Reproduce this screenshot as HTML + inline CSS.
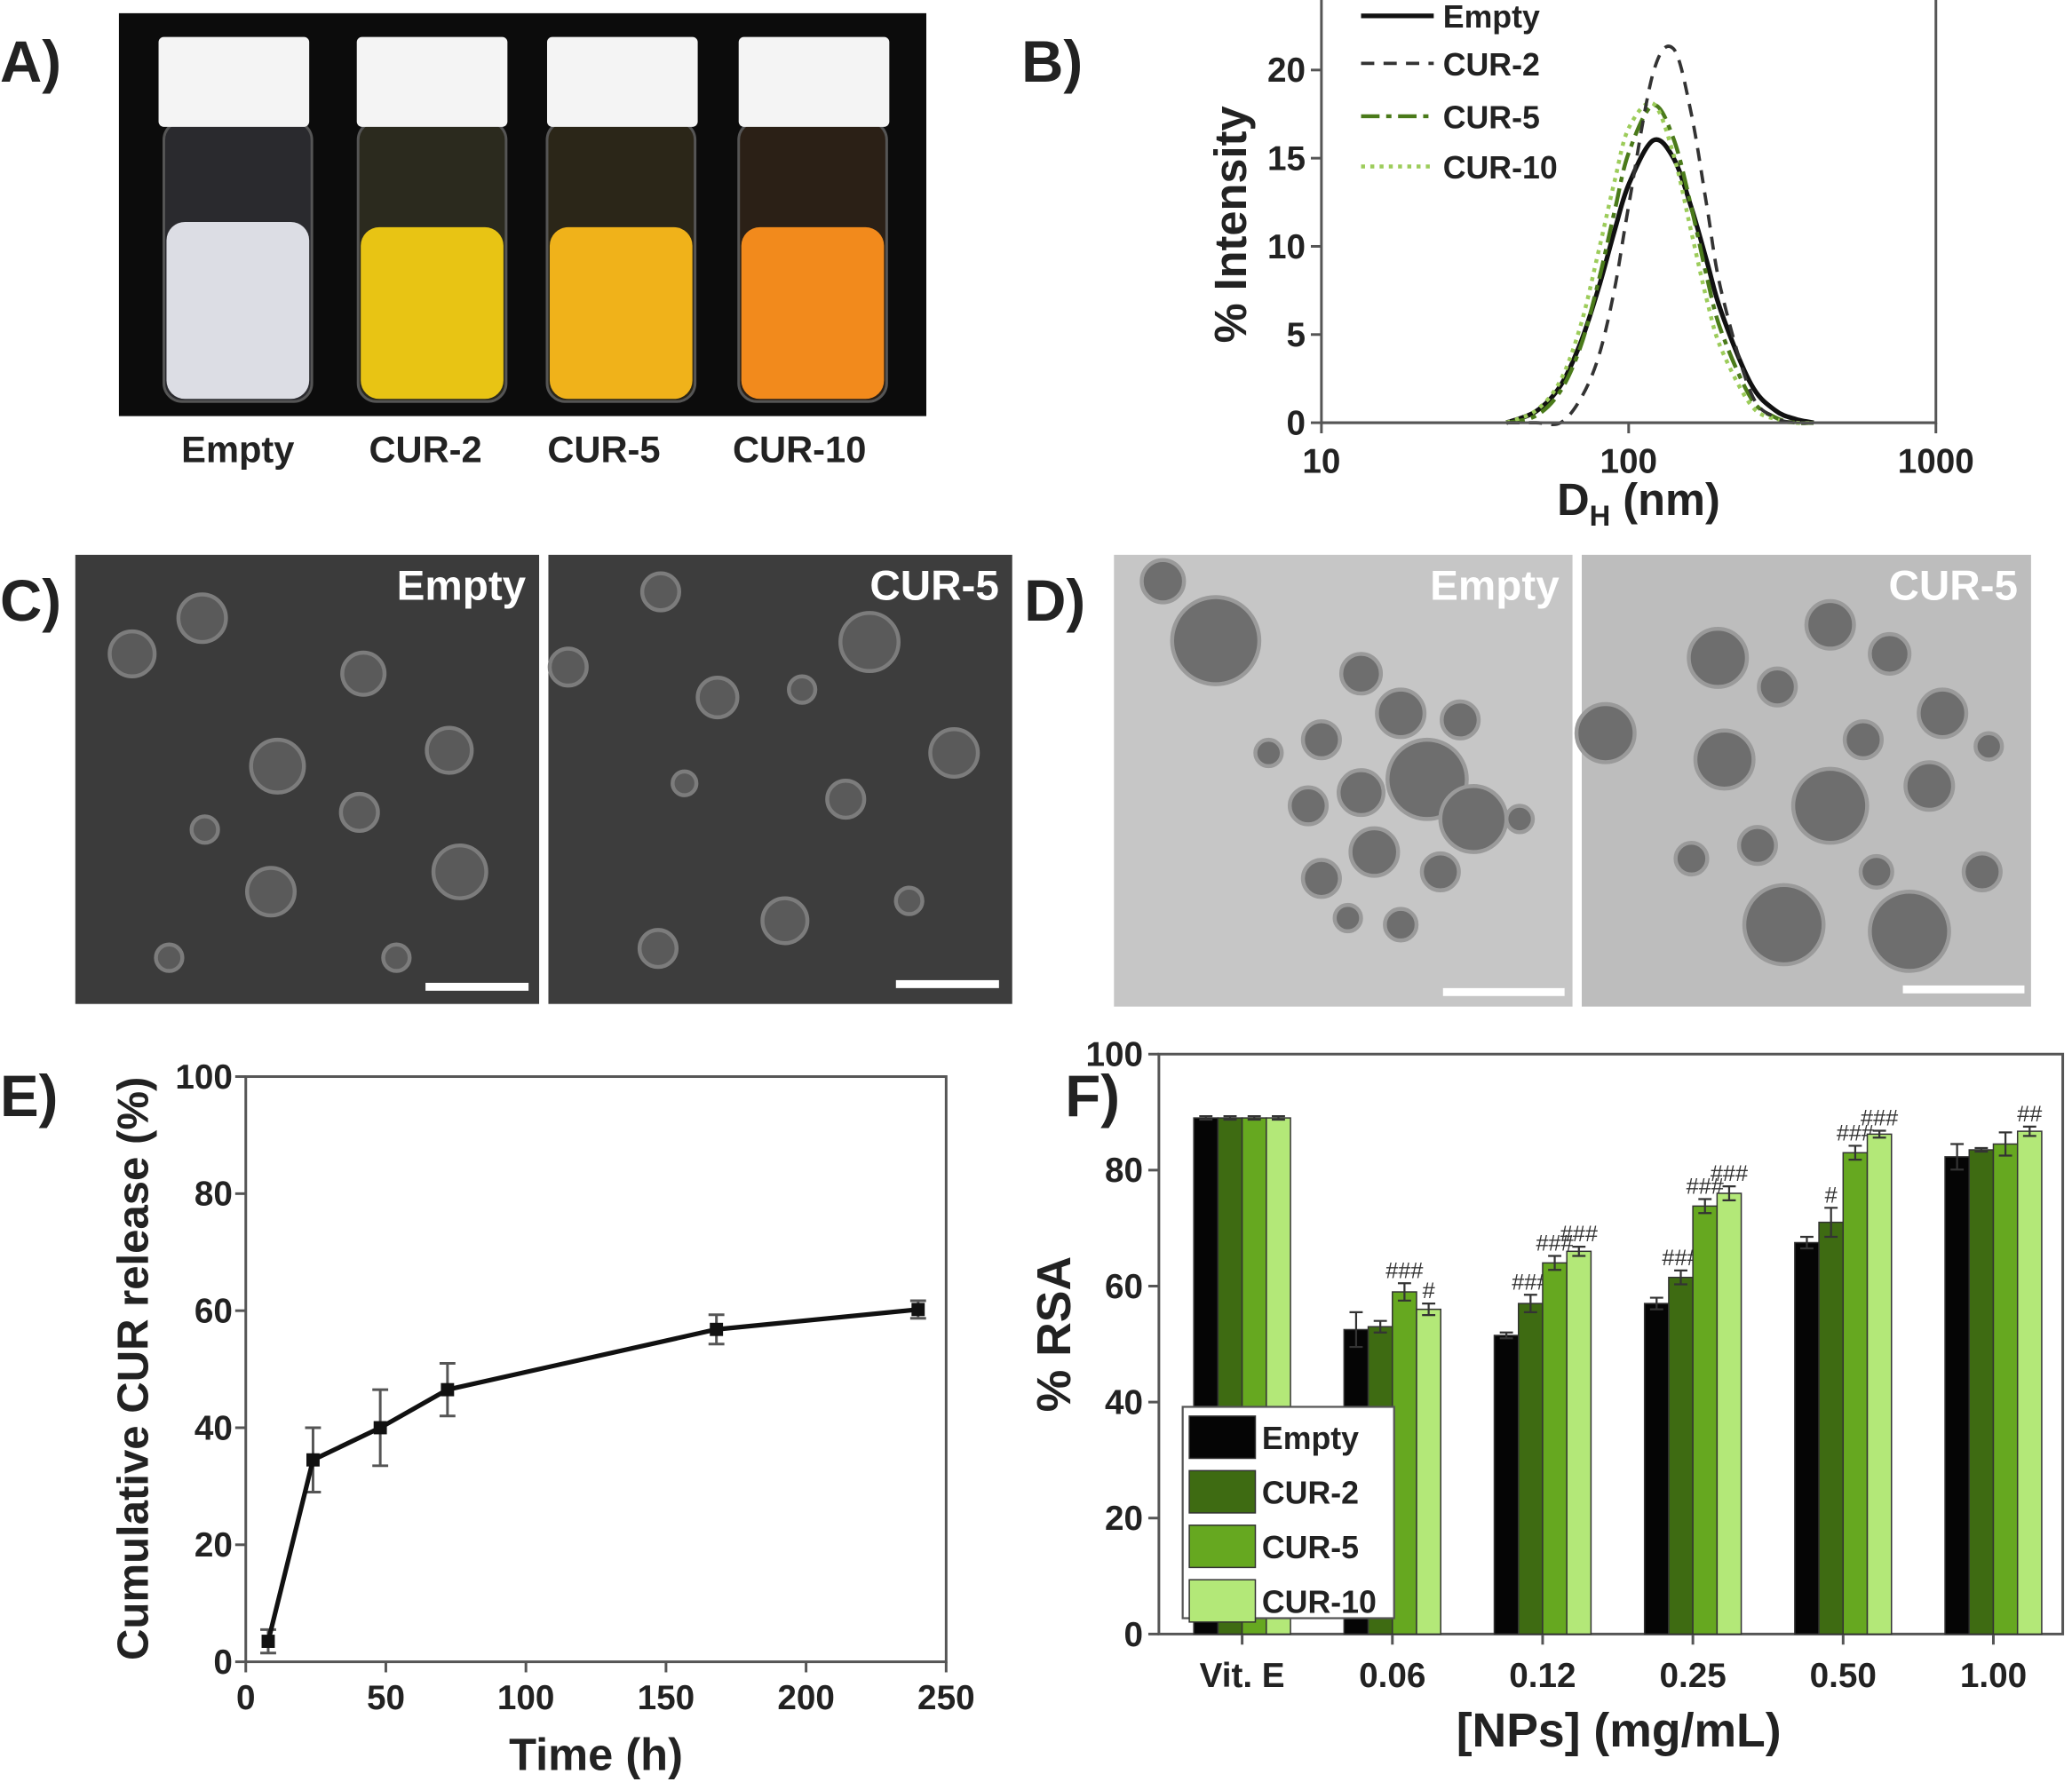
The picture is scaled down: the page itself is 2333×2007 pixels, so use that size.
<!DOCTYPE html>
<html><head><meta charset="utf-8"><title>CUR nanoparticles figure</title>
<style>
html,body{margin:0;padding:0;background:#fff;}
svg{display:block;}
text{font-family:"Liberation Sans Narrow","Liberation Sans",sans-serif;font-weight:bold;fill:#222;}
</style></head>
<body>
<svg id="fig" width="2333" height="2007" viewBox="0 0 1568 1349" preserveAspectRatio="none" xmlns="http://www.w3.org/2000/svg">
<!-- Panel A -->
<g>
<text x="0" y="62" font-size="44">A)</text>
<rect x="90" y="10" width="611" height="305" fill="#0c0c0c"/>
<g>
<rect x="124" y="92" width="112" height="212" rx="14" fill="#2a2a2e" stroke="#555" stroke-width="2"/>
<rect x="126" y="168" width="108" height="134" rx="14" fill="#dcdde4"/>
<rect x="120" y="28" width="114" height="68" rx="4" fill="#f4f4f4"/></g>
<g>
<rect x="271" y="92" width="112" height="212" rx="14" fill="#2b2a1e" stroke="#555" stroke-width="2"/>
<rect x="273" y="172" width="108" height="130" rx="14" fill="#e8c414"/>
<rect x="270" y="28" width="114" height="68" rx="4" fill="#f4f4f4"/></g>
<g>
<rect x="414" y="92" width="112" height="212" rx="14" fill="#2b2618" stroke="#555" stroke-width="2"/>
<rect x="416" y="172" width="108" height="130" rx="14" fill="#f0b21a"/>
<rect x="414" y="28" width="114" height="68" rx="4" fill="#f4f4f4"/></g>
<g>
<rect x="559" y="92" width="112" height="212" rx="14" fill="#2b2016" stroke="#555" stroke-width="2"/>
<rect x="561" y="172" width="108" height="130" rx="14" fill="#f28a1c"/>
<rect x="559" y="28" width="114" height="68" rx="4" fill="#f4f4f4"/></g>
<text x="180" y="350" font-size="28" text-anchor="middle">Empty</text>
<text x="322" y="350" font-size="28" text-anchor="middle">CUR-2</text>
<text x="457" y="350" font-size="28" text-anchor="middle">CUR-5</text>
<text x="605" y="350" font-size="28" text-anchor="middle">CUR-10</text>
</g>
<!-- Panel B -->
<g id="pb">
<text x="773" y="62" font-size="44">B)</text>
</g>
<!-- Panel C -->
<g>
<text x="0" y="470" font-size="44">C)</text>
<rect x="57" y="420" width="351" height="340" fill="#3b3b3b"/>
<rect x="415" y="420" width="351" height="340" fill="#3d3d3d"/>
<g fill="#5a5a5a" stroke="#7c7c7c" stroke-width="3">
<circle cx="153" cy="468" r="18"/><circle cx="100" cy="495" r="17"/><circle cx="275" cy="510" r="16"/><circle cx="340" cy="568" r="17"/><circle cx="210" cy="580" r="20"/><circle cx="272" cy="615" r="14"/><circle cx="155" cy="628" r="10"/><circle cx="205" cy="675" r="18"/><circle cx="348" cy="660" r="20"/><circle cx="300" cy="725" r="10"/><circle cx="128" cy="725" r="10"/>
<circle cx="500" cy="448" r="14"/><circle cx="658" cy="486" r="22"/><circle cx="430" cy="505" r="14"/><circle cx="543" cy="528" r="15"/><circle cx="607" cy="522" r="10"/><circle cx="722" cy="570" r="18"/><circle cx="640" cy="605" r="14"/><circle cx="518" cy="593" r="9"/><circle cx="594" cy="697" r="17"/><circle cx="498" cy="718" r="14"/><circle cx="688" cy="682" r="10"/></g>
<text x="398" y="454" font-size="32" text-anchor="end" style="fill:#fff">Empty</text>
<text x="756" y="454" font-size="32" text-anchor="end" style="fill:#fff">CUR-5</text>
<rect x="322" y="744" width="78" height="6" fill="#fff"/>
<rect x="678" y="742" width="78" height="6" fill="#fff"/>
</g>
<!-- Panel D -->
<g>
<text x="775" y="470" font-size="44">D)</text>
<rect x="843" y="420" width="347" height="342" fill="#c6c6c6"/>
<rect x="1197" y="420" width="340" height="342" fill="#bdbdbd"/>
<g fill="#6e6e6e" stroke="#9a9a9a" stroke-width="3">
<circle cx="920" cy="485" r="33"/><circle cx="880" cy="440" r="16"/><circle cx="1030" cy="510" r="15"/><circle cx="1060" cy="540" r="18"/><circle cx="1105" cy="545" r="14"/><circle cx="1000" cy="560" r="14"/><circle cx="1080" cy="590" r="30"/><circle cx="1115" cy="620" r="25"/><circle cx="1030" cy="600" r="17"/><circle cx="990" cy="610" r="14"/><circle cx="1040" cy="645" r="18"/><circle cx="1090" cy="660" r="14"/><circle cx="1000" cy="665" r="14"/><circle cx="960" cy="570" r="10"/><circle cx="1060" cy="700" r="12"/><circle cx="1150" cy="620" r="10"/><circle cx="1020" cy="695" r="10"/>
<circle cx="1300" cy="498" r="22"/><circle cx="1385" cy="473" r="18"/><circle cx="1345" cy="520" r="14"/><circle cx="1430" cy="495" r="15"/><circle cx="1470" cy="540" r="18"/><circle cx="1305" cy="575" r="22"/><circle cx="1385" cy="610" r="28"/><circle cx="1460" cy="595" r="18"/><circle cx="1410" cy="560" r="14"/><circle cx="1215" cy="555" r="22"/><circle cx="1350" cy="700" r="30"/><circle cx="1445" cy="705" r="30"/><circle cx="1500" cy="660" r="14"/><circle cx="1330" cy="640" r="14"/><circle cx="1280" cy="650" r="12"/><circle cx="1505" cy="565" r="10"/><circle cx="1420" cy="660" r="12"/></g>
<text x="1180" y="454" font-size="32" text-anchor="end" style="fill:#fff">Empty</text>
<text x="1527" y="454" font-size="32" text-anchor="end" style="fill:#fff">CUR-5</text>
<rect x="1092" y="748" width="92" height="6" fill="#fff"/>
<rect x="1440" y="746" width="92" height="6" fill="#fff"/>
</g>
<g id="pe">
<text x="0" y="845" font-size="44">E)</text>
</g>
<g id="pf">
<text x="806" y="845" font-size="44">F)</text>
</g>
</svg>
<script>
// ---------- Panel B data ----------
const dlsDiameters = [40,50,60,70,80,90,100,120,140,160,180,200,250,300,350,400];
const dlsEmpty = [0,0.65,2.1,4.6,7.7,10.9,13.5,16,15.0,12.2,9.1,6.3,2.2,0.7,0.2,0];
const dlsCur2  = [0,0,0,1.4,3.8,7.6,12.3,19.8,21.2,17.5,12.2,7.5,1.7,0.3,0,0];
const dlsCur5  = [0,0.4,1.8,4.4,8.1,12.0,15.3,18,16.1,12.2,8.2,5.2,1.4,0.3,0,0];
const dlsCur10 = [0,0.7,2.4,5.6,9.8,13.7,16.7,18.1,15.2,10.8,6.9,4.2,1.0,0.2,0,0];
const dlsYTicks = [0,5,10,15,20];
const dlsXTicks = [10,100,1000];
// ---------- Panel E data ----------
const relTime = [8,24,48,72,168,240];
const relValue = [3.5,34.5,40,46.5,56.8,60.2];
const relErr = [2,5.5,6.5,4.5,2.5,1.5];
const relXTicks = [0,50,100,150,200,250];
const relYTicks = [0,20,40,60,80,100];
// ---------- Panel F data ----------
const rsaCategories = ["Vit. E","0.06","0.12","0.25","0.50","1.00"];
const rsaSeries = ["Empty","CUR-2","CUR-5","CUR-10"];
const rsaEmpty = [89,52.5,51.5,57,67.5,82.3];
const rsaCur2 = [89,53,57,61.5,71,83.5];
const rsaCur5 = [89,59,64,73.8,83,84.5];
const rsaCur10 = [89,56,66,76,86.2,86.7];
const rsaErrEmpty = [0.3,3,0.5,1,1,2.2];
const rsaErrCur2 = [0.3,1,1.5,1.2,2.5,0.3];
const rsaErrCur5 = [0.3,1.5,1.2,1.2,1.2,2];
const rsaErrCur10 = [0.3,1,0.8,1.2,0.6,0.8];
const rsaSigCur2 = ["","","###","###","#",""];
const rsaSigCur5 = ["","###","###","###","###",""];
const rsaSigCur10 = ["","#","###","###","###","##"];
const rsaYTicks = [0,20,40,60,80,100];

const NS="http://www.w3.org/2000/svg";
function mk(parent,tag,attrs,txt){const e=document.createElementNS(NS,tag);for(const k in attrs)e.setAttribute(k,attrs[k]);if(txt!==undefined)e.textContent=txt;parent.appendChild(e);return e;}
function spline(pts){let d="M"+pts[0][0]+","+pts[0][1];for(let i=0;i<pts.length-1;i++){const p0=pts[Math.max(i-1,0)],p1=pts[i],p2=pts[i+1],p3=pts[Math.min(i+2,pts.length-1)];const c1x=p1[0]+(p2[0]-p0[0])/6,c1y=p1[1]+(p2[1]-p0[1])/6,c2x=p2[0]-(p3[0]-p1[0])/6,c2y=p2[1]-(p3[1]-p1[1])/6;d+=" C"+c1x+","+c1y+" "+c2x+","+c2y+" "+p2[0]+","+p2[1];}return d;}

// ---------- Panel B ----------
(function(){
const g=document.getElementById('pb');
const L=1000,R=1465,T=0,B=320;
const xs=v=>L+(Math.log10(v)-1)/2*(R-L);
const ys=v=>B-v*(B-53)/20;
let e=mk(g,'rect',{x:L,y:T-5,width:R-L,height:B-T+5,fill:'none',stroke:'#555','stroke-width':2});


dlsYTicks.forEach(v=>{const y=ys(v);
 let t=mk(g,'line',{x1:L-8,x2:L,y1:y,y2:y,stroke:'#555','stroke-width':2});
 
 
 let l=mk(g,'text',{x:L-12,y:y+9,'font-size':26,'text-anchor':'end'},v);
 
 });
dlsXTicks.forEach(v=>{const x=xs(v);
 let t=mk(g,'line',{x1:x,x2:x,y1:B,y2:B+8,stroke:'#555','stroke-width':2});
 
 
 let l=mk(g,'text',{x:x,y:B+38,'font-size':26,'text-anchor':'middle'},v);
 
 });
let yt=mk(g,'text',{x:0,y:0,'font-size':34,'text-anchor':'middle',transform:'translate(943,170) rotate(-90)'},'% Intensity');


let xt=mk(g,'text',{x:1240,y:390,'font-size':34,'text-anchor':'middle'});


mk(xt,'tspan',{},'D');mk(xt,'tspan',{'font-size':22,dy:8},'H');mk(xt,'tspan',{dy:-8},' (nm)');
const ser=[[dlsEmpty,'#111','',3.5,'Empty'],[dlsCur2,'#333','10,7',2.5,'CUR-2'],[dlsCur5,'#4a7a1a','14,5,4,5',3,'CUR-5'],[dlsCur10,'#9ccc5a','3,4',3,'CUR-10']];
const order=[0,2,3,1];
order.forEach(i=>{const s=ser[i];const pts=dlsDiameters.map((d,k)=>[xs(d),ys(s[0][k])]);
 let p=mk(g,'path',{d:spline(pts),fill:'none',stroke:s[1],'stroke-width':s[3],'stroke-dasharray':s[2]});
 
 });
mk(g,'line',{x1:L,x2:R,y1:B,y2:B,stroke:'#555','stroke-width':2});
ser.forEach((s,i)=>{const y=[12,48,88,126][i];
 let ln=mk(g,'line',{x1:1030,x2:1085,y1:y,y2:y,stroke:s[1],'stroke-width':s[3],'stroke-dasharray':s[2]});
 
 
 let tx=mk(g,'text',{x:1092,y:y+9,'font-size':24},s[4]);
 
 });
})();

// ---------- Panel E ----------
(function(){
const g=document.getElementById('pe');
const L=186,R=716,T=815,B=1258;
const xs=v=>L+v/250*(R-L), ys=v=>B-v/100*(B-T);
let f=mk(g,'rect',{x:L,y:T,width:R-L,height:B-T,fill:'none',stroke:'#555','stroke-width':2});


relYTicks.forEach(v=>{const y=ys(v);
 let t=mk(g,'line',{x1:L-8,x2:L,y1:y,y2:y,stroke:'#555','stroke-width':2});
 
 
 let l=mk(g,'text',{x:L-10,y:y+9,'font-size':26,'text-anchor':'end'},v);
 
 });
relXTicks.forEach(v=>{const x=xs(v);
 let t=mk(g,'line',{x1:x,x2:x,y1:B,y2:B+8,stroke:'#555','stroke-width':2});
 
 
 let l=mk(g,'text',{x:x,y:B+36,'font-size':26,'text-anchor':'middle'},v);
 
 });
let yt=mk(g,'text',{x:0,y:0,'font-size':33,'text-anchor':'middle',transform:'translate(112,1036) rotate(-90)'},'Cumulative CUR release (%)');


let xt=mk(g,'text',{x:451,y:1340,'font-size':34,'text-anchor':'middle'},'Time (h)');


relTime.forEach((t,i)=>{const x=xs(t),y1=ys(relValue[i]-relErr[i]),y2=ys(relValue[i]+relErr[i]);
 let eb=mk(g,'path',{d:`M${x},${y1}V${y2}M${x-6},${y1}H${x+6}M${x-6},${y2}H${x+6}`,stroke:'#555','stroke-width':2,fill:'none'});
 
 });
let ln=mk(g,'polyline',{points:relTime.map((t,i)=>xs(t)+','+ys(relValue[i])).join(' '),fill:'none',stroke:'#111','stroke-width':3.5});


relTime.forEach((t,i)=>{let m=mk(g,'rect',{x:xs(t)-5,y:ys(relValue[i])-5,width:10,height:10,fill:'#111'});
 
 });
})();

// ---------- Panel F ----------
(function(){
const g=document.getElementById('pf');
const L=877,R=1561,T=798,B=1237;
const ys=v=>B-v/100*(B-T);
const step=113.7, c0=940, bw=18.3;
const vals=[rsaEmpty,rsaCur2,rsaCur5,rsaCur10], errs=[rsaErrEmpty,rsaErrCur2,rsaErrCur5,rsaErrCur10];
const sigs=[null,rsaSigCur2,rsaSigCur5,rsaSigCur10];
const cols=['#050505','#3e6b12','#66a820','#b3e878'];
let f=mk(g,'rect',{x:L,y:T,width:R-L,height:B-T,fill:'none',stroke:'#555','stroke-width':2});


rsaYTicks.forEach(v=>{const y=ys(v);
 let t=mk(g,'line',{x1:L-8,x2:L,y1:y,y2:y,stroke:'#555','stroke-width':2});
 
 
 let l=mk(g,'text',{x:L-12,y:y+9,'font-size':26,'text-anchor':'end'},v);
 
 });
rsaCategories.forEach((c,i)=>{const x=c0+i*step;
 let t=mk(g,'line',{x1:x,x2:x,y1:B,y2:B+8,stroke:'#555','stroke-width':2});
 
 
 let l=mk(g,'text',{x:x,y:B+40,'font-size':26,'text-anchor':'middle'},c);
 
 
 vals.forEach((sv,s)=>{const bx=x-2*bw+s*bw,y=ys(sv[i]);
  let r=mk(g,'rect',{x:bx,y:y,width:bw,height:B-y,fill:cols[s],stroke:'#333','stroke-width':1});
  
  
  const cx=bx+bw/2,e1=ys(sv[i]-errs[s][i]),e2=ys(sv[i]+errs[s][i]);
  let eb=mk(g,'path',{d:`M${cx},${e1}V${e2}M${cx-5},${e1}H${cx+5}M${cx-5},${e2}H${cx+5}`,stroke:'#333','stroke-width':1.5,fill:'none'});
  
  
  if(sigs[s]&&sigs[s][i]){let st=mk(g,'text',{x:cx,y:e2-4,'font-size':17,'text-anchor':'middle',style:'font-weight:normal;fill:#333'},sigs[s][i]);
   
   }
 });});
let yt=mk(g,'text',{x:0,y:0,'font-size':36,'text-anchor':'middle',transform:'translate(810,1010) rotate(-90)'},'% RSA');


let xt=mk(g,'text',{x:1225,y:1322,'font-size':36,'text-anchor':'middle'},'[NPs] (mg/mL)');


let lb=mk(g,'rect',{x:895,y:1065,width:160,height:160,fill:'#fff',stroke:'#555','stroke-width':1.5});


rsaSeries.forEach((s,i)=>{const y=1088+i*41.3;
 let sw=mk(g,'rect',{x:900,y:y-16,width:50,height:32,fill:cols[i],stroke:'#333','stroke-width':1});
 
 
 let tx=mk(g,'text',{x:955,y:y+9,'font-size':24},s);
 
 });
})();
</script>
</body></html>
